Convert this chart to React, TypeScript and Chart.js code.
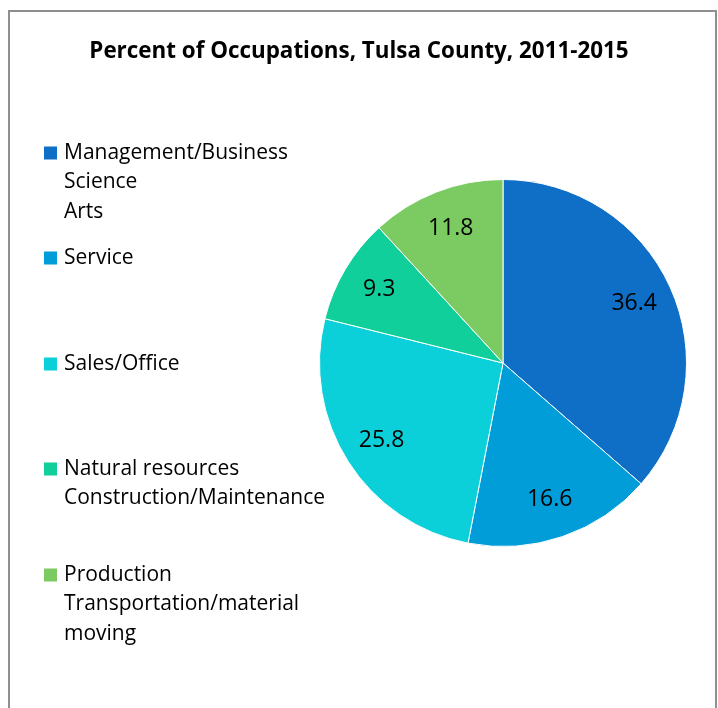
import React, { useEffect, useRef } from "react";
import { Chart, registerables } from "chart.js";

Chart.register(...registerables);

const TITLE = "Percent of Occupations, Tulsa County, 2011-2015";
const categories: string[][] = [
  ["Management/Business", "Science", "Arts"],
  ["Service"],
  ["Sales/Office"],
  ["Natural resources", "Construction/Maintenance"],
  ["Production", "Transportation/material", "moving"],
];
const values: number[] = [36.4, 16.6, 25.8, 9.3, 11.8];
const colors: string[] = ["#0F6FC6", "#009DD9", "#0BD0D9", "#10CF9B", "#7CCA62"];

const FONT = "'Open Sans', Lato, sans-serif";

const overlayPlugin = {
  id: "overlay",
  afterDraw(chart: any) {
    const ctx = chart.ctx as CanvasRenderingContext2D;
    ctx.save();
    // title
    ctx.fillStyle = "#000";
    ctx.font = `bold 22.4px ${FONT}`;
    ctx.textAlign = "center";
    ctx.textBaseline = "middle";
    ctx.fillText(TITLE, 359, 52);

    // legend
    const starts = [153, 258, 364, 469, 575];
    const lineH = 29.5;
    ctx.textAlign = "left";
    ctx.font = `21px ${FONT}`;
    categories.forEach((lines, i) => {
      const y0 = starts[i];
      ctx.fillStyle = colors[i];
      ctx.fillRect(44, y0 - 6.5, 13, 13);
      ctx.fillStyle = "#000";
      lines.forEach((ln, j) => {
        ctx.fillText(ln, 64, y0 + j * lineH);
      });
    });

    // data labels
    const meta = chart.getDatasetMeta(0);
    ctx.textAlign = "center";
    ctx.font = `23px ${FONT}`;
    ctx.fillStyle = "#000";
    meta.data.forEach((arc: any, i: number) => {
      const { x, y, startAngle, endAngle, outerRadius } = arc.getProps(
        ["x", "y", "startAngle", "endAngle", "outerRadius"],
        true
      );
      const mid = (startAngle + endAngle) / 2;
      const r = outerRadius * 0.785;
      ctx.fillText(String(values[i]), x + Math.cos(mid) * r, y + Math.sin(mid) * r);
    });
    ctx.restore();
  },
};

export default function App() {
  const ref = useRef<HTMLCanvasElement>(null);
  useEffect(() => {
    if (!ref.current) return;
    const chart = new Chart(ref.current, {
      type: "pie",
      data: {
        labels: categories.map((c) => c.join(" ")),
        datasets: [
          {
            data: values,
            backgroundColor: colors,
            borderColor: "#ffffff",
            borderWidth: 1,
          },
        ],
      },
      options: {
        animation: false,
        responsive: false,
        maintainAspectRatio: false,
        layout: { padding: { left: 319, right: 31, top: 179, bottom: 161 } },
        plugins: {
          legend: { display: false },
          title: { display: false },
          tooltip: { enabled: false },
        },
      },
      plugins: [overlayPlugin],
    });
    return () => chart.destroy();
  }, []);
  return (
    <div style={{ position: "fixed", left: 0, top: 0, width: 718, height: 708, background: "#fff" }}>
      <div
        style={{
          position: "absolute",
          left: 8,
          top: 10,
          width: 709,
          height: 720,
          border: "2px solid #8f8f8f",
          boxSizing: "border-box",
        }}
      />
      <canvas ref={ref} width={718} height={708} style={{ position: "absolute", left: 0, top: 0 }} />
    </div>
  );
}
